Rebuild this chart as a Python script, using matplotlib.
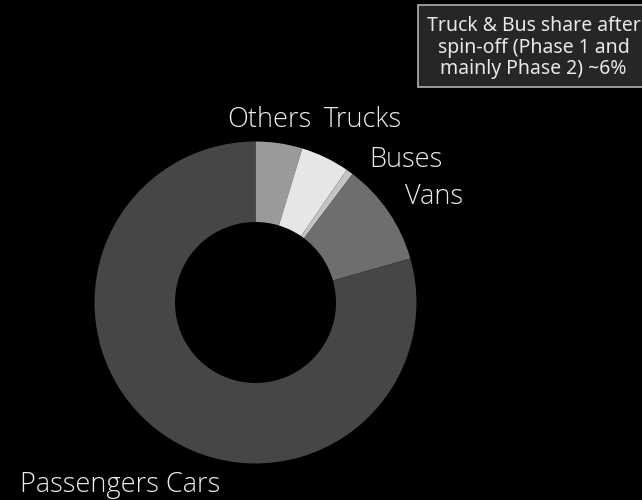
import matplotlib
matplotlib.use('Agg')
import matplotlib.pyplot as plt
from matplotlib.patches import Rectangle

# Vehicle segment shares (%), clockwise from 12 o'clock
segments = ['Others', 'Trucks', 'Buses', 'Vans', 'Passengers Cars']
shares = [4.7, 4.9, 0.7, 10.3, 79.4]
colors = ['#9a9a9a', '#e6e6e6', '#c4c4c4', '#6e6e6e', '#464646']

# label anchor points (data units, pie radius = 1)
label_pos = {
    'Others': (0.084, 1.090, 'center'),
    'Trucks': (0.668, 1.090, 'center'),
    'Buses': (0.933, 0.843, 'center'),
    'Vans': (1.106, 0.612, 'center'),
    'Passengers Cars': (-1.462, -1.180, 'left'),
}

note = "Truck & Bus share after\nspin-off (Phase 1 and\nmainly Phase 2) ~6%"

fig = plt.figure(figsize=(6.42, 5.0), dpi=100)
fig.patch.set_facecolor('black')
ax = fig.add_axes([0, 0, 1, 1])
ax.set_facecolor('black')

ax.pie(shares, colors=colors, startangle=90, counterclock=False,
       radius=1.0, wedgeprops=dict(width=0.5, linewidth=0))

for name in segments:
    x, y, ha = label_pos[name]
    ax.text(x, y, name, ha=ha, va='baseline', color='#ececec',
            fontsize=19.5, family='Open Sans', fontweight='light')

ax.set_xlim(-1.587, 2.401)
ax.set_ylim(-1.227, 1.879)
ax.set_aspect('equal')
ax.axis('off')

# note box in the top right corner
fig.patches.append(Rectangle((418 / 642, 1 - 87 / 500), 240 / 642, 82 / 500,
                             transform=fig.transFigure, facecolor='#262626',
                             edgecolor='#b0b0b0', linewidth=1.2))
# va='baseline' on multi-line text anchors the last line
fig.text(533.5 / 642, 1 - 74 / 500, note, ha='center', va='baseline',
         multialignment='center', color='#e8e8e8', fontsize=14,
         family='Noto Sans', linespacing=1.1)

fig.savefig('out.png', dpi=100, facecolor='black')
